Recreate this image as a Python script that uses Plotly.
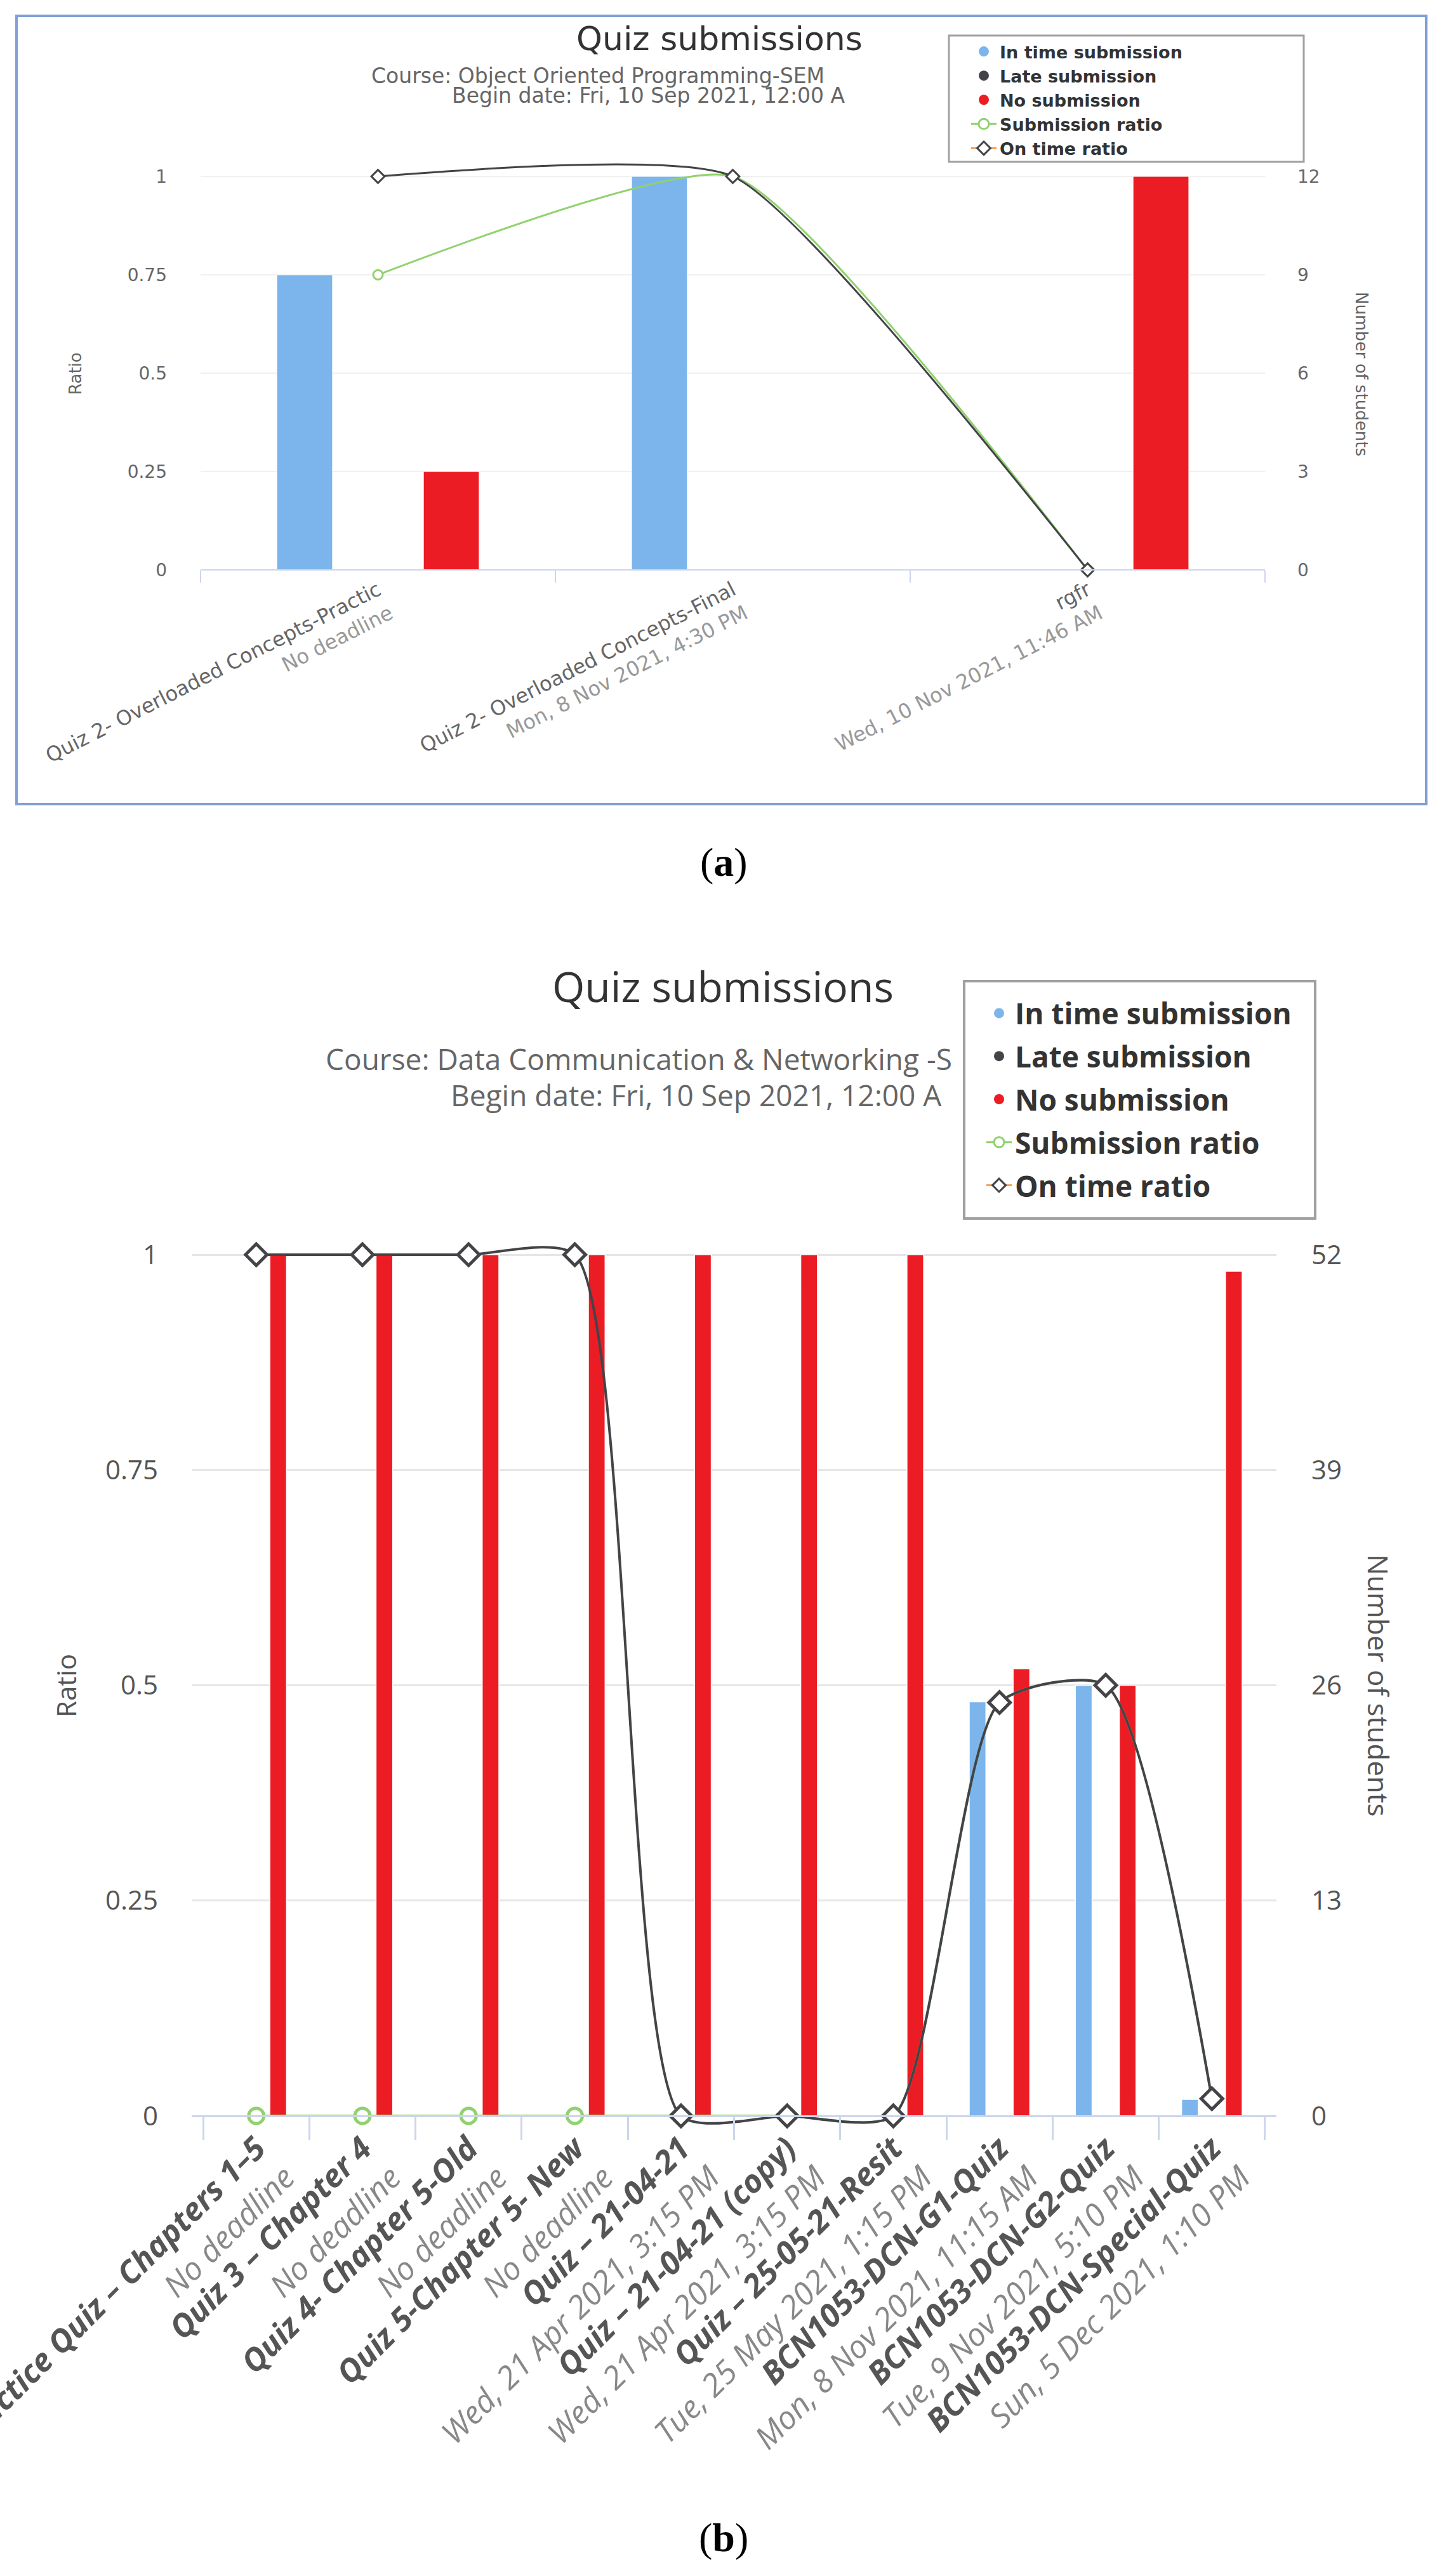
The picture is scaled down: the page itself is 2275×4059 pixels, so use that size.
import plotly.graph_objects as go

# ---------------- Data: panel (a) ----------------
cats_a = ["Quiz 2- Overloaded Concepts-Practic",
          "Quiz 2- Overloaded Concepts-Final",
          "rgfr"]
deadlines_a = ["No deadline", "Mon, 8 Nov 2021, 4:30 PM", "Wed, 10 Nov 2021, 11:46 AM"]
in_time_a = [9, 12, 0]
late_a = [0, 0, 0]
no_sub_a = [3, 0, 12]
sub_ratio_a = [0.75, 1, 0]
on_time_a = [1, 1, 0]
ratio_ticks_a = [0, 0.25, 0.5, 0.75, 1]
ratio_ticktext_a = ["0", "0.25", "0.5", "0.75", "1"]
count_ticks_a = [0, 3, 6, 9, 12]
count_max_a = 12

# ---------------- Data: panel (b) ----------------
cats_b = ["Practice Quiz – Chapters 1–5", "Quiz 3 – Chapter 4", "Quiz 4- Chapter 5-Old",
          "Quiz 5-Chapter 5- New", "Quiz – 21-04-21", "Quiz – 21-04-21 (copy)",
          "Quiz – 25-05-21-Resit", "BCN1053-DCN-G1-Quiz", "BCN1053-DCN-G2-Quiz",
          "BCN1053-DCN-Special-Quiz"]
deadlines_b = ["No deadline", "No deadline", "No deadline", "No deadline",
               "Wed, 21 Apr 2021, 3:15 PM", "Wed, 21 Apr 2021, 3:15 PM",
               "Tue, 25 May 2021, 1:15 PM", "Mon, 8 Nov 2021, 11:15 AM",
               "Tue, 9 Nov 2021, 5:10 PM", "Sun, 5 Dec 2021, 1:10 PM"]
in_time_b = [0, 0, 0, 0, 0, 0, 0, 25, 26, 1]
late_b = [0, 0, 0, 0, 0, 0, 0, 0, 0, 0]
no_sub_b = [52, 52, 52, 52, 52, 52, 52, 27, 26, 51]
sub_ratio_b = [0, 0, 0, 0, 0, 0, 0, 0.48, 0.5, 0.02]
on_time_b = [1, 1, 1, 1, 0, 0, 0, 0.48, 0.5, 0.02]
ratio_ticks_b = [0, 0.25, 0.5, 0.75, 1]
ratio_ticktext_b = ["0", "0.25", "0.5", "0.75", "1"]
count_ticks_b = [0, 13, 26, 39, 52]
count_max_b = 52

legend_names = ["In time submission", "Late submission", "No submission",
                "Submission ratio", "On time ratio"]

# ---------------- Layout helpers ----------------
W, H = 2275, 4059
def px(x):
    return x / W
def py(y):
    return 1 - y / H

BLUE = "#7cb5ec"
DARK = "#434348"
RED = "#ec1c24"
GREEN = "#90d26d"
ORANGE = "#f7a35c"
FA = "DejaVu Sans"
FB = "Open Sans"
AXC = "#ccd6eb"

# padding of the value range so lines at 0 and 1 are not clipped
LO, HI = -0.04, 1.06
A0, A1 = 898, 278
B0, B1 = 3334, 1977
def dom(p0, p1):
    span = p0 - p1
    return [py(p0 - LO * span), py(p1 - (HI - 1) * span)]

fig = go.Figure()

# ---------- panel (a) traces ----------
for name, vals, col in [(legend_names[0], in_time_a, BLUE),
                        (legend_names[1], late_a, DARK),
                        (legend_names[2], no_sub_a, RED)]:
    fig.add_trace(go.Bar(x=cats_a, y=vals, name=name, xaxis="x", yaxis="y",
                         marker=dict(color=col, line=dict(color="white", width=1)),
                         showlegend=False))
fig.add_trace(go.Scatter(x=cats_a, y=sub_ratio_a, name=legend_names[3], xaxis="x", yaxis="y2",
                         mode="lines+markers", cliponaxis=False, showlegend=False,
                         line=dict(color=GREEN, width=3, shape="spline", smoothing=0.5),
                         marker=dict(symbol="circle", size=15, color="white",
                                     line=dict(color=GREEN, width=3))))
fig.add_trace(go.Scatter(x=cats_a, y=on_time_a, name=legend_names[4], xaxis="x", yaxis="y2",
                         mode="lines+markers", cliponaxis=False, showlegend=False,
                         line=dict(color=DARK, width=3, shape="spline", smoothing=0.5),
                         marker=dict(symbol="diamond", size=16, color="white",
                                     line=dict(color=DARK, width=3))))

# ---------- panel (b) traces ----------
for name, vals, col in [(legend_names[0], in_time_b, BLUE),
                        (legend_names[1], late_b, DARK),
                        (legend_names[2], no_sub_b, RED)]:
    fig.add_trace(go.Bar(x=cats_b, y=vals, name=name, xaxis="x2", yaxis="y3",
                         marker=dict(color=col, line=dict(color="white", width=1.5)),
                         showlegend=False))
fig.add_trace(go.Scatter(x=cats_b, y=sub_ratio_b, name=legend_names[3], xaxis="x2", yaxis="y4",
                         mode="lines+markers", cliponaxis=False, showlegend=False,
                         line=dict(color=GREEN, width=4, shape="spline", smoothing=0.65),
                         marker=dict(symbol="circle", size=24, color="white",
                                     line=dict(color=GREEN, width=5))))
fig.add_trace(go.Scatter(x=cats_b, y=on_time_b, name=legend_names[4], xaxis="x2", yaxis="y4",
                         mode="lines+markers", cliponaxis=False, showlegend=False,
                         line=dict(color=DARK, width=4, shape="spline", smoothing=0.65),
                         marker=dict(symbol="diamond", size=26, color="white",
                                     line=dict(color=DARK, width=5))))

# ---------- legend entries (symbols as in the original) ----------
leg_specs = [("markers", "circle", BLUE, None, BLUE),
             ("markers", "circle", DARK, None, DARK),
             ("markers", "circle", RED, None, RED),
             ("lines+markers", "circle", "white", GREEN, GREEN),
             ("lines+markers", "diamond", "white", ORANGE, DARK)]
for lg, xa, ya, grp in [("legend", "x", "y2", "a"), ("legend2", "x2", "y4", "b")]:
    for i, (mode, sym, fill, lcol, mline) in enumerate(leg_specs):
        kw = dict(line=dict(color=lcol, width=3)) if lcol else {}
        fig.add_trace(go.Scatter(x=[None], y=[None], name=legend_names[i], mode=mode,
                                 legend=lg, xaxis=xa, yaxis=ya, legendgroup=f"{grp}{i}",
                                 marker=dict(symbol=sym, size=16, color=fill,
                                             line=dict(color=mline, width=3 if mode != "markers" else 0)),
                                 **kw))

tick_a = [f"<span style='color:#666'>{c}</span><br><span style='color:#999'>{d}</span>"
          for c, d in zip(cats_a, deadlines_a)]
tick_b = [f"<b>{c}</b><br><span style='color:#888'>{d}</span>"
          for c, d in zip(cats_b, deadlines_b)]

fig.update_layout(
    template="none",
    width=W, height=H, autosize=False,
    margin=dict(l=0, r=0, t=0, b=0, pad=0),
    paper_bgcolor="white", plot_bgcolor="white",
    barmode="group", bargap=0.38, bargroupgap=0.24,
    showlegend=True, hovermode="closest",
    # panel (a)
    xaxis=dict(domain=[px(316), px(1993)], anchor="free", position=py(A0), type="category",
               categoryorder="array", categoryarray=cats_a, automargin=False,
               tickvals=cats_a, ticktext=tick_a, tickangle=-27,
               tickson="boundaries", ticks="outside", ticklen=19, tickwidth=2, tickcolor=AXC,
               showline=True, linecolor=AXC, linewidth=2, showgrid=False, zeroline=False,
               tickfont=dict(family=FA, size=32, color="#666")),
    yaxis=dict(domain=dom(A0, A1), anchor="x", side="right",
               range=[LO * count_max_a, HI * count_max_a], automargin=False,
               tickvals=count_ticks_a, showgrid=True, gridcolor="#f0f0f0", gridwidth=2,
               zeroline=False, ticks="", showline=False, ticklabelstandoff=50,
               tickfont=dict(family=FA, size=28, color="#666")),
    yaxis2=dict(overlaying="y", anchor="x", side="left", range=[LO, HI], automargin=False,
                tickvals=ratio_ticks_a, ticktext=ratio_ticktext_a, showgrid=False,
                zeroline=False, ticks="", showline=False, ticklabelstandoff=52,
                tickfont=dict(family=FA, size=28, color="#666")),
    # panel (b)
    xaxis2=dict(domain=[px(302), px(2011)], anchor="free", position=py(B0), type="category",
                categoryorder="array", categoryarray=cats_b, automargin=False,
                tickvals=cats_b, ticktext=tick_b, tickangle=-45,
                tickson="boundaries", ticks="outside", ticklen=36, tickwidth=3, tickcolor=AXC,
                showline=True, linecolor=AXC, linewidth=3, showgrid=False, zeroline=False,
                tickfont=dict(family=FB, size=50, color="#555", style="italic")),
    yaxis3=dict(domain=dom(B0, B1), anchor="x2", side="right",
                range=[LO * count_max_b, HI * count_max_b], automargin=False,
                tickvals=count_ticks_b, showgrid=True, gridcolor="#e6e6e6", gridwidth=3,
                zeroline=False, ticks="", showline=False, ticklabelstandoff=54,
                tickfont=dict(family=FB, size=42, color="#555")),
    yaxis4=dict(overlaying="y3", anchor="x2", side="left", range=[LO, HI], automargin=False,
                tickvals=ratio_ticks_b, ticktext=ratio_ticktext_b, showgrid=False,
                zeroline=False, ticks="", showline=False, ticklabelstandoff=52,
                tickfont=dict(family=FB, size=42, color="#555")),
    legend=dict(x=px(1495 + 30), y=py(57), xanchor="left", yanchor="top",
                bgcolor="rgba(0,0,0,0)", borderwidth=0,
                font=dict(family=FA, size=27, color="#333", weight="bold"),
                tracegroupgap=0, traceorder="normal", itemwidth=40),
    legend2=dict(x=px(1519 + 30), y=py(1560), xanchor="left", yanchor="top",
                 bgcolor="rgba(0,0,0,0)", borderwidth=0,
                 font=dict(family=FB, size=46, color="#333", weight="bold"),
                 tracegroupgap=5, traceorder="grouped", itemwidth=40),
)

ann = []
# panel (a) texts
ann.append(dict(text="Quiz submissions", x=px(1133), y=py(61), font=dict(family=FA, size=52, color="#333")))
ann.append(dict(text="Course: Object Oriented Programming-SEM", x=px(583), y=py(119), xanchor="left",
                font=dict(family=FA, size=33, color="#666")))
ann.append(dict(text="Begin date: Fri, 10 Sep 2021, 12:00 A", x=px(710), y=py(150), xanchor="left",
                font=dict(family=FA, size=33, color="#666")))
ann.append(dict(text="Ratio", x=px(119), y=py(589), textangle=-90, font=dict(family=FA, size=26, color="#666")))
ann.append(dict(text="Number of students", x=px(2145), y=py(589), textangle=90,
                font=dict(family=FA, size=26, color="#666")))
ann.append(dict(text="(<b>a</b>)", x=px(1140), y=py(1358), font=dict(family="Liberation Serif", size=64, color="black")))
# panel (b) texts
ann.append(dict(text="Quiz submissions", x=px(1139), y=py(1553), font=dict(family=FB, size=66, color="#333")))
ann.append(dict(text="Course: Data Communication & Networking -S", x=px(511), y=py(1668), xanchor="left",
                font=dict(family=FB, size=46, color="#666")))
ann.append(dict(text="Begin date: Fri, 10 Sep 2021, 12:00 A", x=px(708), y=py(1725), xanchor="left",
                font=dict(family=FB, size=46, color="#666")))
ann.append(dict(text="Ratio", x=px(103), y=py(2656), textangle=-90, font=dict(family=FB, size=42, color="#555")))
ann.append(dict(text="Number of students", x=px(2172), y=py(2656), textangle=90,
                font=dict(family=FB, size=44, color="#555")))
ann.append(dict(text="(<b>b</b>)", x=px(1140), y=py(3998), font=dict(family="Liberation Serif", size=64, color="black")))
for a in ann:
    a.update(xref="paper", yref="paper", showarrow=False)
    a.setdefault("xanchor", "center")
    a.setdefault("yanchor", "middle")
fig.update_layout(annotations=ann)

# frame around panel (a)
fig.add_shape(type="rect", xref="paper", yref="paper", x0=px(26), x1=px(2247), y0=py(1267), y1=py(25),
              line=dict(color="#7f9fd5", width=4), layer="below")
# legend boxes
fig.add_shape(type="rect", xref="paper", yref="paper", x0=px(1495), x1=px(2054), y0=py(255), y1=py(56),
              line=dict(color="#a0a0a0", width=3), fillcolor="white", layer="above")
fig.add_shape(type="rect", xref="paper", yref="paper", x0=px(1519), x1=px(2072), y0=py(1920), y1=py(1546),
              line=dict(color="#a0a0a0", width=4), fillcolor="white", layer="above")

fig.write_html("out.html", config={"displayModeBar": False},
               post_script="document.body.style.margin='0';")
